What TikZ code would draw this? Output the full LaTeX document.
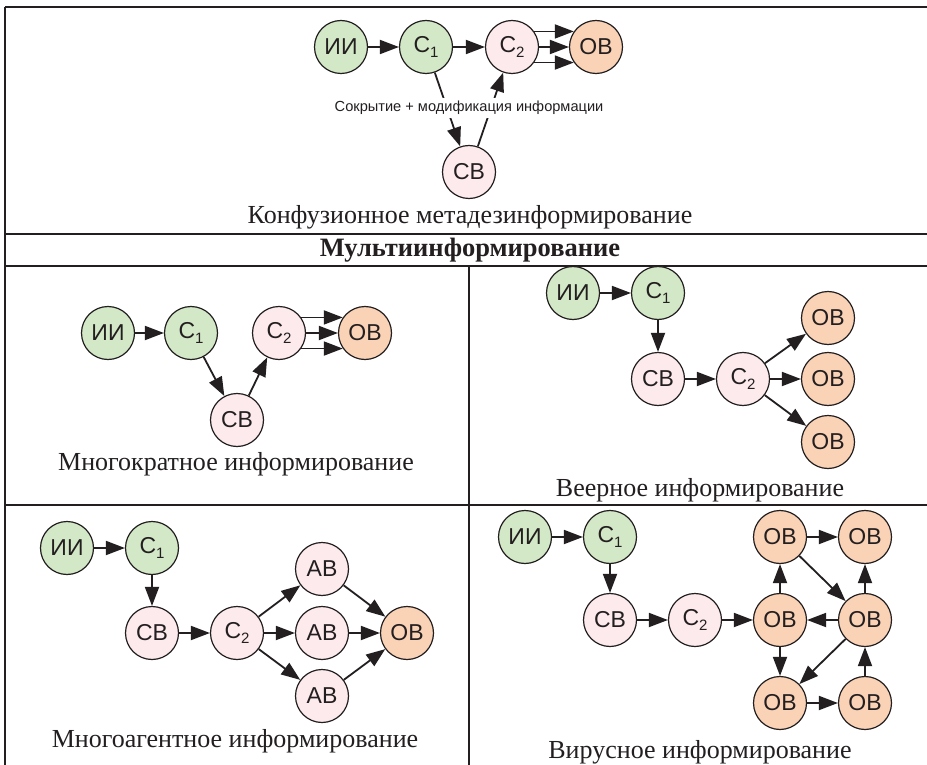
\documentclass[tikz,border=0pt]{standalone}
\usepackage{fontspec}
\setmainfont{Liberation Serif}
\setsansfont{Liberation Sans}
\usetikzlibrary{arrows.meta}
\definecolor{ink}{HTML}{231F20}
\definecolor{srcgreen}{HTML}{D3E8C6}
\definecolor{midpink}{HTML}{FCEAEC}
\definecolor{tgtorange}{HTML}{FAD2B6}
\tikzset{
  vert/.style={circle, draw=ink, line width=1.2pt, minimum size=53pt, inner sep=0pt,
    font=\sffamily\fontsize{23}{26}\selectfont, text=ink},
  src/.style={vert, fill=srcgreen},
  mid/.style={vert, fill=midpink},
  tgt/.style={vert, fill=tgtorange},
  link/.style={draw=ink, line width=1.8pt, -{Triangle[length=19pt,width=14pt]}},
  rule/.style={draw=ink, line width=1.5pt},
  caption/.style={font=\fontsize{26}{30}\selectfont, text=ink, inner sep=0pt},
}
\newcommand{\Cs}[1]{C\raisebox{-0.25em}{\fontsize{15}{15}\selectfont #1}}
\begin{document}
\begin{tikzpicture}[x=1pt,y=-1pt]
\useasboundingbox (0,0) rectangle (927,765);
\fill[white] (0,0) rectangle (927,765);

% table rules
\draw[rule] (5,7) -- (927,7);
\draw[rule] (5,7) -- (5,765);
\draw[rule] (5,234) -- (927,234);
\draw[rule] (5,266) -- (927,266);
\draw[rule] (5,505) -- (927,505);
\draw[rule] (469,266) -- (469,765);

% confusion metadisinformation
\node[src] (aII) at (341,47) {ИИ};
\node[src] (aC1) at (426,47) {\Cs{1}};
\node[mid] (aC2) at (512,47) {\Cs{2}};
\node[tgt] (aOV) at (596,47) {ОВ};
\node[mid] (aSV) at (469,172) {СВ};
\draw[link] (aII) -- (aC1);
\draw[link] (aC1) -- (aC2);
\draw[link] (aC2.35) -- (aOV.145);
\draw[link] (aC2) -- (aOV);
\draw[link] (aC2.-35) -- (aOV.-145);
\draw[link] (aC1) -- (aSV);
\draw[link] (aSV) -- (aC2);
\node[fill=white, inner xsep=1pt, inner ysep=3pt, font=\sffamily\fontsize{14.6}{16}\selectfont, text=ink] (aLbl) at (469,108) {Сокрытие + модификация информации};
\node[caption] (aCap) at (470,217) {Конфузионное метадезинформирование};
\node[caption, font=\bfseries\fontsize{26.5}{30}\selectfont] (head) at (470,250) {Мультиинформирование};

% repeated informing
\node[src] (bII) at (108,333) {ИИ};
\node[src] (bC1) at (191,333) {\Cs{1}};
\node[mid] (bC2) at (279,333) {\Cs{2}};
\node[tgt] (bOV) at (365,333) {ОВ};
\node[mid] (bSV) at (237,420) {СВ};
\draw[link] (bII) -- (bC1);
\draw[link] (bC1) -- (bSV);
\draw[link] (bSV) -- (bC2);
\draw[link] (bC2.35) -- (bOV.145);
\draw[link] (bC2) -- (bOV);
\draw[link] (bC2.-35) -- (bOV.-145);
\node[caption] (bCap) at (236,464) {Многократное информирование};

% fan informing
\node[src] (cII) at (573,293) {ИИ};
\node[src] (cC1) at (658,293) {\Cs{1}};
\node[mid] (cSV) at (658,379) {СВ};
\node[mid] (cC2) at (743,379) {\Cs{2}};
\node[tgt] (cOV1) at (828,318) {ОВ};
\node[tgt] (cOV2) at (828,379) {ОВ};
\node[tgt] (cOV3) at (828,442) {ОВ};
\draw[link] (cII) -- (cC1);
\draw[link] (cC1) -- (cSV);
\draw[link] (cSV) -- (cC2);
\draw[link] (cC2) -- (cOV1);
\draw[link] (cC2) -- (cOV2);
\draw[link] (cC2) -- (cOV3);
\node[caption] (cCap) at (700,490) {Веерное информирование};

% multi-agent informing
\node[src] (dII) at (67,548) {ИИ};
\node[src] (dC1) at (152,548) {\Cs{1}};
\node[mid] (dSV) at (152,633) {СВ};
\node[mid] (dC2) at (237,633) {\Cs{2}};
\node[mid] (dAV1) at (322,569) {АВ};
\node[mid] (dAV2) at (322,633) {АВ};
\node[mid] (dAV3) at (322,696) {АВ};
\node[tgt] (dOV) at (407,633) {ОВ};
\draw[link] (dII) -- (dC1);
\draw[link] (dC1) -- (dSV);
\draw[link] (dSV) -- (dC2);
\draw[link] (dC2) -- (dAV1);
\draw[link] (dC2) -- (dAV2);
\draw[link] (dC2) -- (dAV3);
\draw[link] (dAV1) -- (dOV);
\draw[link] (dAV2) -- (dOV);
\draw[link] (dAV3) -- (dOV);
\node[caption] (dCap) at (235,741) {Многоагентное информирование};

% viral informing
\node[src] (eII) at (525,537) {ИИ};
\node[src] (eC1) at (610,537) {\Cs{1}};
\node[mid] (eSV) at (610,620) {СВ};
\node[mid] (eC2) at (695,620) {\Cs{2}};
\node[tgt] (eA) at (780,537) {ОВ};
\node[tgt] (eB) at (865,537) {ОВ};
\node[tgt] (eC) at (780,620) {ОВ};
\node[tgt] (eD) at (865,620) {ОВ};
\node[tgt] (eE) at (780,703) {ОВ};
\node[tgt] (eF) at (865,703) {ОВ};
\draw[link] (eII) -- (eC1);
\draw[link] (eC1) -- (eSV);
\draw[link] (eSV) -- (eC2);
\draw[link] (eC2) -- (eC);
\draw[link] (eA) -- (eB);
\draw[link] (eA) -- (eD);
\draw[link] (eC) -- (eA);
\draw[link] (eD) -- (eC);
\draw[link] (eD) -- (eB);
\draw[link] (eC) -- (eE);
\draw[link] (eD) -- (eE);
\draw[link] (eE) -- (eF);
\draw[link] (eF) -- (eD);
\node[caption] (eCap) at (700,752) {Вирусное информирование};
\end{tikzpicture}
\end{document}
